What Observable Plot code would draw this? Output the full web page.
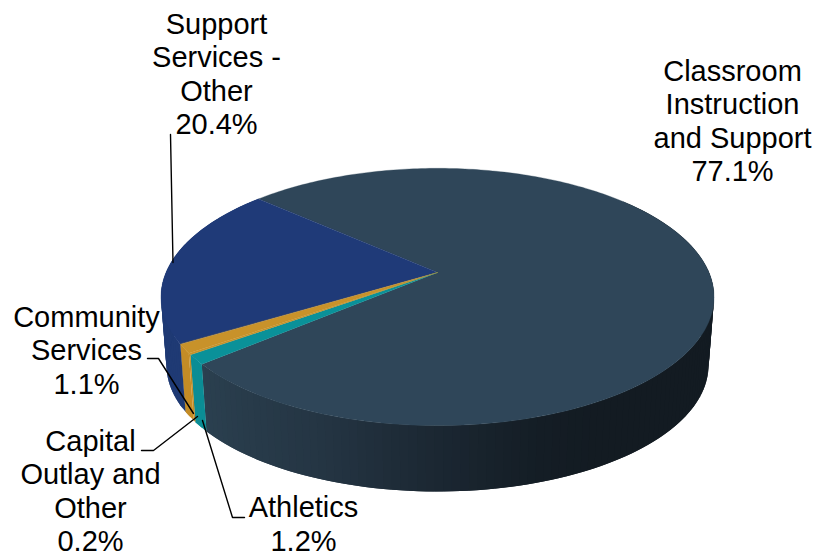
<!DOCTYPE html>
<html>
<head>
<meta charset="utf-8">
<style>html,body{margin:0;padding:0;background:#fff}svg{display:block}</style>
<script src="https://cdn.jsdelivr.net/npm/d3@7"></script>
<script src="https://cdn.jsdelivr.net/npm/@observablehq/plot@0.6"></script>
</head>
<body>
<div id="chart"></div>
<script>
// Data, clockwise from the back-left edge
const categories = ["Classroom Instruction and Support","Athletics","Capital Outlay and Other","Community Services","Support Services - Other"];
const shares = [77.1,1.2,0.2,1.1,20.4];
const labelTexts = ["Classroom\nInstruction\nand Support\n77.1%","Athletics\n1.2%","Capital\nOutlay and\nOther\n0.2%","Community\nServices\n1.1%","Support\nServices -\nOther\n20.4%"];
const topColors = ["#2f4659","#0a9199","#c8922a","#c8922a","#1f3a78"];
const wallColors = ["#2b4050","#0b8d95","#c48c26","#c48c26","#1f3a74"];
// Layout (pixels in the 817x556 picture)
const labelX = [732,303,90,86,216];
const labelY = [120,523,490,349,73];
const leaderX = [[],[244,232,202],[141,153,197],[147,158,193],[170,172.5]];
const leaderY = [[],[517,517,420],[450,450,416],[358,358,413],[134,262]];

// Perspective of the tilted disc
const cx=437, cy=272, rx=271.5, ry=124, k=0.19, depth=69/ry, shrink=0.98, startDeg=222;
const rad = d=>d*Math.PI/180;
const px = (t,low)=>{const w=1-k*Math.sin(rad(t));return (low?shrink:1)*Math.cos(rad(t))/w;};
const py = (t,low)=>{const w=1-k*Math.sin(rad(t));return (low?shrink:1)*Math.sin(rad(t))/w+(low?depth:0);};
const ux = p=>(p-cx)/rx, uy = p=>(p-cy)/ry;

const total = d3.sum(shares);
const ends = Array.from(d3.cumsum(shares),c=>startDeg+c/total*360);
const starts = ends.map((e,i)=>i?ends[i-1]:startDeg);

// Top faces
const topPts=[];
[0,4,3,1,2].forEach(i=>{
  const a=starts[i], b=ends[i], n=Math.max(2,Math.ceil((b-a)/1));
  topPts.push({id:i,x:0,y:0,c:topColors[i]});
  for(let j=0;j<=n;j++){const t=a+(b-a)*j/n;topPts.push({id:i,x:px(t,0),y:py(t,0),c:topColors[i]});}
});

// Side wall: overlapping strips, painted back to front, so no seams show
const shade = d3.scaleLinear().domain([60,72,90,110,140]).range(["#131b22","#141d25","#1b2732","#243543","#2b4050"]).clamp(true);
const wallPts=[];
let sid=0;
const addStrip=(a,b,c)=>{sid++;
  [[a,0],[b,0],[b,1],[a,1]].forEach(([t,l])=>wallPts.push({id:sid,x:px(t,l),y:py(t,l),c}));
};
const step=1.5;
// Normalised so the front of the disc is 0..180; the classroom wall starts at the right side
shares.forEach((_,i)=>{
  const a=i===0?-40:starts[i]-360, b=ends[i]-360;
  for(let t=a;t<b-1e-6;t+=step){
    addStrip(t,Math.min(t+2*step,b),i===0?shade(t+step/2):wallColors[i]);
  }
});

const labels = labelTexts.map((text,i)=>({text,x:ux(labelX[i]),y:uy(labelY[i])}));
const leaders = leaderX.flatMap((xs,i)=>xs.map((x,j)=>({id:i,x:ux(x),y:uy(leaderY[i][j])})));

const chart = Plot.plot({
  width:817,height:556,margin:0,
  style:{background:"#fff"},
  x:{domain:[-1,1],range:[cx-rx,cx+rx],axis:null},
  y:{domain:[-1,1],range:[cy-ry,cy+ry],axis:null},
  color:{type:"identity"},
  marks:[
    Plot.line(wallPts,{x:"x",y:"y",z:"id",fill:"c",stroke:"none",curve:"linear-closed"}),
    Plot.line(topPts,{x:"x",y:"y",z:"id",fill:"c",stroke:"c",strokeWidth:0.3,curve:"linear-closed"}),
    Plot.line(leaders,{x:"x",y:"y",z:"id",stroke:"#000",strokeWidth:1.4,curve:"linear"}),
    Plot.text(labels,{x:"x",y:"y",text:"text",textAnchor:"middle",lineAnchor:"middle",lineHeight:1.155,fontSize:29,fontFamily:"'Liberation Sans',Arial,sans-serif",fill:"#000"})
  ]
});
document.getElementById("chart").appendChild(chart);
</script>
</body>
</html>
